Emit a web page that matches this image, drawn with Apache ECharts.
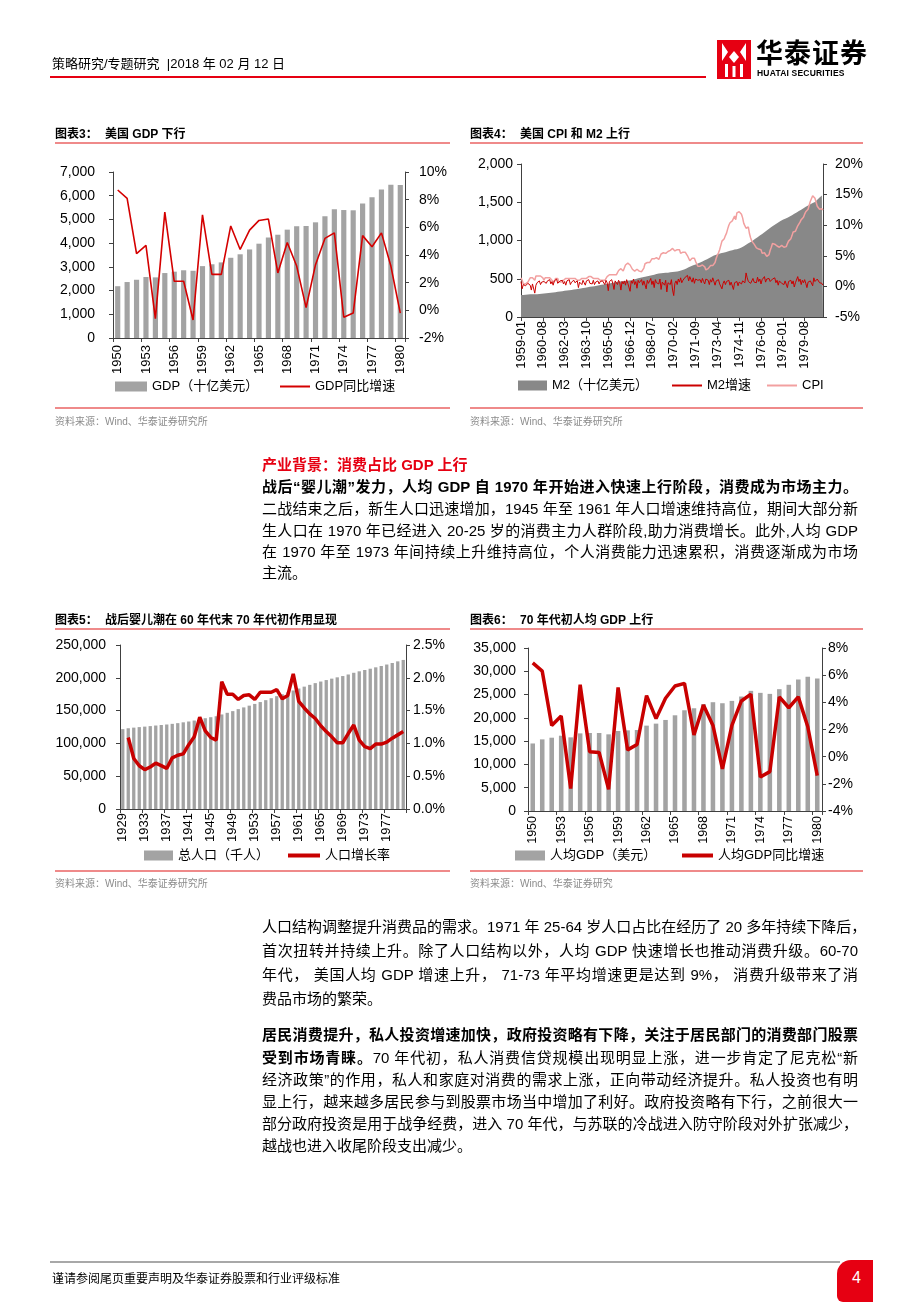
<!DOCTYPE html>
<html><head><meta charset="utf-8">
<script src="https://cdn.jsdelivr.net/npm/echarts/dist/echarts.min.js"></script>
<style>
html,body{margin:0;padding:0;background:#fff;}
#page{position:relative;width:920px;height:1302px;overflow:hidden;background:#fff;}
#c{position:absolute;left:0;top:0;width:920px;height:1302px;}
.t{position:absolute;white-space:nowrap;font-family:"Liberation Sans","Noto Sans CJK SC",sans-serif;color:#000;z-index:2;}
.ttl{font-size:12px;font-weight:bold;line-height:16px;}
.src{font-size:10px;color:#8c8c8c;line-height:14px;}
.rule{position:absolute;height:2px;background:#ef8a8a;z-index:2;}
.ln{left:262px;width:596px;font-size:15px;line-height:20px;text-align:justify;text-align-last:justify;}
.ln.last{text-align-last:left;}
.b{font-weight:bold;}
</style>
</head><body><div id="page">
<div id="c"></div>

<!-- header -->
<div class="t" style="left:52px;top:56px;font-size:13px;line-height:16px;">策略研究/专题研究&nbsp;&nbsp;|2018 年 02 月 12 日</div>
<div style="position:absolute;left:50px;top:76px;width:656px;height:2px;background:#e60012;z-index:2;"></div>
<svg style="position:absolute;left:717px;top:40px;z-index:2" width="34" height="39" viewBox="0 0 34 39">
<rect x="0" y="0" width="34" height="39" fill="#e60012"/>
<path d="M5 3 L11 12 L5 21 Z M29 3 L23 12 L29 21 Z" fill="#fff"/>
<path d="M12 17 L17 11 L22 17 L17 23 Z" fill="#fff"/>
<rect x="8" y="24" width="3" height="13" fill="#fff"/><rect x="23" y="24" width="3" height="13" fill="#fff"/>
<rect x="15.5" y="26" width="3" height="11" fill="#fff"/>
</svg>
<div class="t" style="left:756px;top:36px;font-size:27px;font-weight:bold;line-height:32px;letter-spacing:1px;font-family:'Noto Sans CJK SC',sans-serif;">华泰证券</div>
<div class="t" style="left:757px;top:68px;font-size:8.5px;font-weight:bold;line-height:10px;letter-spacing:0.2px;">HUATAI SECURITIES</div>

<!-- chart titles -->
<div class="t ttl" style="left:55px;top:126px;">图表3：</div>
<div class="t ttl" style="left:105px;top:126px;">美国 GDP 下行</div>
<div class="rule" style="left:55px;top:142px;width:395px;"></div>
<div class="t ttl" style="left:470px;top:126px;">图表4：</div>
<div class="t ttl" style="left:520px;top:126px;">美国 CPI 和 M2 上行</div>
<div class="rule" style="left:470px;top:142px;width:393px;"></div>
<div class="rule" style="left:55px;top:407px;width:395px;"></div>
<div class="rule" style="left:470px;top:407px;width:393px;"></div>
<div class="t src" style="left:55px;top:415px;">资料来源：Wind、华泰证券研究所</div>
<div class="t src" style="left:470px;top:415px;">资料来源：Wind、华泰证券研究所</div>

<div class="t ttl" style="left:55px;top:612px;">图表5：</div>
<div class="t ttl" style="left:105px;top:612px;">战后婴儿潮在 60 年代末 70 年代初作用显现</div>
<div class="rule" style="left:55px;top:628px;width:395px;"></div>
<div class="t ttl" style="left:470px;top:612px;">图表6：</div>
<div class="t ttl" style="left:520px;top:612px;">70 年代初人均 GDP 上行</div>
<div class="rule" style="left:470px;top:628px;width:393px;"></div>
<div class="rule" style="left:55px;top:870px;width:395px;"></div>
<div class="rule" style="left:470px;top:870px;width:393px;"></div>
<div class="t src" style="left:55px;top:877px;">资料来源：Wind、华泰证券研究所</div>
<div class="t src" style="left:470px;top:877px;">资料来源：Wind、华泰证券研究</div>

<!-- body text -->
<div class="t b" style="left:262px;top:455px;font-size:15px;line-height:20px;color:#e60012;">产业背景：消费占比 GDP 上行</div>
<div class="t ln b" style="top:477px;">战后“婴儿潮”发力，人均 GDP 自 1970 年开始进入快速上行阶段，消费成为市场主力。</div>
<div class="t ln" style="top:499px;">二战结束之后，新生人口迅速增加，1945 年至 1961 年人口增速维持高位，期间大部分新</div>
<div class="t ln" style="top:521px;">生人口在 1970 年已经进入 20-25 岁的消费主力人群阶段,助力消费增长。此外,人均 GDP</div>
<div class="t ln" style="top:542px;">在 1970 年至 1973 年间持续上升维持高位，个人消费能力迅速累积，消费逐渐成为市场</div>
<div class="t ln last" style="top:563px;">主流。</div>

<div class="t ln" style="top:917px;">人口结构调整提升消费品的需求。1971 年 25-64 岁人口占比在经历了 20 多年持续下降后，</div>
<div class="t ln" style="top:941px;">首次扭转并持续上升。除了人口结构以外，人均 GDP 快速增长也推动消费升级。60-70</div>
<div class="t ln" style="top:965px;">年代， 美国人均 GDP 增速上升， 71-73 年平均增速更是达到 9%， 消费升级带来了消</div>
<div class="t ln last" style="top:989px;">费品市场的繁荣。</div>

<div class="t ln" style="top:1025px;"><span class="b">居民消费提升，私人投资增速加快，政府投资略有下降，关注于居民部门的消费部门股票</span></div>
<div class="t ln" style="top:1048px;"><span class="b">受到市场青睐。</span>70 年代初，私人消费信贷规模出现明显上涨，进一步肯定了尼克松“新</div>
<div class="t ln" style="top:1070px;">经济政策”的作用，私人和家庭对消费的需求上涨，正向带动经济提升。私人投资也有明</div>
<div class="t ln" style="top:1092px;">显上行，越来越多居民参与到股票市场当中增加了利好。政府投资略有下行，之前很大一</div>
<div class="t ln" style="top:1114px;">部分政府投资是用于战争经费，进入 70 年代，与苏联的冷战进入防守阶段对外扩张减少，</div>
<div class="t ln last" style="top:1136px;">越战也进入收尾阶段支出减少。</div>

<!-- footer -->
<div style="position:absolute;left:50px;top:1261px;width:790px;height:2px;background:#a8a8a8;z-index:2;"></div>
<div class="t" style="left:52px;top:1271px;font-size:12px;line-height:16px;">谨请参阅尾页重要声明及华泰证券股票和行业评级标准</div>
<div style="position:absolute;left:837px;top:1260px;width:36px;height:42px;background:#e60012;border-top-left-radius:14px;border-bottom-left-radius:6px;z-index:2;"></div>
<div class="t" style="left:852px;top:1268px;font-size:16px;line-height:20px;color:#fff;z-index:3;">4</div>
</div>

<script>
// ---------- Chart 3: US GDP ----------
const gdpYears = ["1950","1951","1952","1953","1954","1955","1956","1957","1958","1959","1960","1961","1962","1963","1964","1965","1966","1967","1968","1969","1970","1971","1972","1973","1974","1975","1976","1977","1978","1979","1980"];
const gdpValues = [2184,2360,2456,2571,2557,2739,2797,2856,2835,3031,3109,3188,3383,3530,3734,3977,4238,4355,4569,4713,4722,4878,5134,5424,5396,5385,5675,5937,6267,6466,6450];
const gdpGrowth = [8.7,8.1,4.1,4.7,-0.6,7.1,2.1,2.1,-0.7,6.9,2.6,2.6,6.1,4.4,5.8,6.5,6.6,2.7,4.9,3.2,0.2,3.3,5.2,5.6,-0.5,-0.2,5.4,4.6,5.6,3.2,-0.2];

// ---------- Chart 4: M2 & CPI (monthly 1959-01 .. 1980-12) ----------
const monthStartYear = 1959, monthEndYear = 1980;
const m2Level = [
287,288,289,290,292,294,295,296,297,297,297,298,
298,299,299,300,300,302,304,305,307,308,310,312,
314,316,318,319,321,323,325,327,329,330,333,335,
337,340,342,344,346,348,350,352,354,356,359,362,
364,366,369,371,373,376,378,380,383,385,388,391,
394,396,398,401,403,406,409,412,415,418,421,424,
426,429,432,434,436,439,442,444,447,450,454,457,
460,462,465,466,467,468,469,471,473,474,476,480,
482,486,490,493,497,501,505,509,513,517,521,525,
527,529,532,535,538,541,545,549,553,557,562,566,
568,570,572,574,575,577,578,579,580,582,584,586,
588,588,590,593,596,598,602,606,610,615,620,627,
634,642,650,658,665,671,676,681,686,692,698,705,
712,719,727,734,741,748,755,763,772,780,789,797,
803,808,813,818,823,829,833,836,839,843,848,853,
857,861,866,870,874,877,881,884,887,891,895,900,
907,915,924,934,944,954,963,972,981,990,1000,1012,
1023,1034,1044,1054,1064,1074,1084,1095,1107,1119,1131,1143,
1154,1165,1175,1185,1195,1205,1215,1225,1235,1245,1254,1263,
1270,1277,1284,1291,1299,1306,1314,1322,1331,1340,1349,1358,
1367,1376,1385,1394,1403,1413,1422,1431,1440,1449,1458,1466,
1474,1483,1490,1494,1503,1517,1532,1548,1563,1575,1587,1600];
const m2Growth = [
0.8,-0.4,0.3,0.6,0.1,-0.2,0.5,0.7,0.2,-0.6,0.4,0.3,
-1.1,0.2,0.6,0.5,0.9,0.3,0.7,0.4,0.8,1.0,0.5,0.9,
0.6,1.1,0.4,0.8,0.2,0.9,0.7,1.2,0.5,0.3,0.9,0.6,
1.0,0.4,0.8,0.2,0.9,0.6,1.1,0.3,0.7,0.5,1.0,0.6,
0.4,0.9,-0.2,0.7,0.8,0.3,1.0,0.6,0.2,0.9,0.7,1.1,
0.5,0.8,0.4,1.0,0.3,0.7,0.6,0.9,0.4,0.8,0.5,0.9,
0.7,0.3,1.0,0.6,-0.7,0.8,0.5,1.1,0.4,-0.5,0.9,0.7,
0.3,1.0,0.6,-0.6,0.8,0.4,0.9,0.2,1.1,0.5,0.7,-0.8,
0.9,0.5,1.2,0.3,0.8,-0.3,1.0,0.6,0.4,1.1,0.2,0.9,
0.7,-0.4,1.0,0.5,0.8,1.3,0.3,0.9,-0.2,1.1,0.6,0.8,
0.4,1.2,-0.5,0.7,0.9,0.2,1.0,-0.9,0.6,0.8,0.3,1.1,
-0.6,-1.5,0.5,0.9,0.3,1.2,0.7,1.4,0.6,1.0,0.8,1.5,
1.3,1.8,0.9,1.6,1.1,0.7,1.4,0.5,1.2,0.9,1.0,1.3,
1.1,0.6,1.3,0.8,0.4,1.2,0.9,1.0,0.3,1.1,0.7,1.4,
0.8,0.2,0.9,0.6,1.1,0.4,0.7,-0.4,0.5,0.9,0.3,0.8,
0.6,1.0,0.2,0.7,0.9,-0.5,0.6,0.3,0.8,0.1,0.7,0.5,
0.4,0.9,1.2,0.6,2.2,1.4,0.8,1.1,0.5,0.9,1.3,0.7,
1.0,0.6,1.5,0.8,1.2,0.4,1.1,0.9,1.6,0.7,1.2,1.0,
1.3,0.8,0.5,1.2,0.9,1.4,0.6,1.0,0.2,0.9,1.1,0.5,
0.7,0.3,0.9,1.1,-0.2,0.8,0.5,1.0,0.4,0.9,-0.1,0.6,
0.4,1.6,0.8,1.2,0.3,1.0,0.6,1.1,0.5,-0.2,0.7,0.4,
0.9,0.6,0.1,1.4,0.8,0.7,1.2,0.9,0.6,0.8,0.5,0.2];
const cpiYoY = [
1.4,1.0,0.4,0.4,0.4,0.7,0.7,1.0,1.4,1.7,1.4,1.7,
1.0,1.7,1.7,1.7,1.7,1.7,1.4,1.4,1.0,1.4,1.4,1.4,
1.7,1.4,1.4,1.0,0.7,0.7,1.3,1.0,1.3,0.7,0.7,0.7,
0.7,1.0,1.0,1.3,1.3,1.3,1.0,1.3,1.3,1.3,1.3,1.3,
1.3,1.0,1.3,1.0,1.0,1.3,1.6,1.3,1.0,1.3,1.3,1.6,
1.6,1.6,1.3,1.3,1.3,1.3,1.3,1.3,1.3,1.0,1.3,1.0,
1.0,1.0,1.3,1.6,1.6,1.9,1.6,1.9,1.6,1.9,1.6,1.9,
1.9,2.6,2.6,2.9,2.9,2.5,2.8,3.5,3.5,3.8,3.8,3.5,
3.5,2.8,2.8,2.5,2.8,2.8,2.8,2.5,2.8,2.4,2.7,3.0,
3.7,4.0,3.9,3.9,3.9,4.2,4.5,4.5,4.5,4.8,4.7,4.7,
4.4,4.7,5.3,5.5,5.5,5.5,5.4,5.7,5.7,5.7,5.9,6.2,
6.2,6.2,5.8,6.1,6.0,6.0,6.0,5.4,5.7,5.6,5.6,5.6,
5.3,5.0,4.7,4.2,4.4,4.6,4.4,4.6,4.1,3.8,3.3,3.3,
3.3,3.5,3.5,3.5,3.2,2.7,3.0,2.9,3.2,3.4,3.7,3.4,
3.7,3.9,4.6,5.1,5.5,6.0,5.7,7.4,7.4,7.8,8.3,8.7,
9.4,10.0,10.4,10.1,10.7,10.9,11.5,10.9,12.0,12.1,12.2,12.3,
11.8,11.2,10.3,10.2,9.5,9.4,9.7,8.6,7.9,7.4,7.4,6.9,
6.7,6.3,6.1,6.1,6.2,6.0,5.4,5.7,5.5,5.5,4.9,4.9,
5.2,5.9,6.4,7.0,6.7,6.9,6.8,6.6,6.6,6.4,6.7,6.7,
6.8,6.4,6.6,6.5,7.0,7.4,7.7,7.8,8.3,8.9,8.9,9.0,
9.3,9.9,10.1,10.5,10.9,10.9,11.3,11.8,12.2,12.1,12.6,13.3,
13.9,14.2,14.8,14.7,14.4,14.4,13.1,12.9,12.6,12.8,12.7,12.5];

// ---------- Chart 5: population ----------
const popYears = ["1929","1930","1931","1932","1933","1934","1935","1936","1937","1938","1939","1940","1941","1942","1943","1944","1945","1946","1947","1948","1949","1950","1951","1952","1953","1954","1955","1956","1957","1958","1959","1960","1961","1962","1963","1964","1965","1966","1967","1968","1969","1970","1971","1972","1973","1974","1975","1976","1977","1978","1979","1980"];
const popValues = [121767,123077,124040,124840,125579,126374,127250,128053,128825,129825,130880,132122,133402,134860,136739,138397,139928,141389,144126,146631,149188,152271,154878,157553,160184,163026,165931,168903,171984,174882,177830,180671,183691,186538,189242,191889,194303,196560,198712,200706,202677,205052,207661,209896,211909,213854,215973,218035,220239,222585,225055,227225];
const popGrowth = [null,1.09,0.77,0.66,0.60,0.64,0.70,0.66,0.62,0.78,0.82,0.84,0.98,1.10,1.40,1.19,1.09,1.05,1.94,1.75,1.75,1.67,1.73,1.74,1.67,1.78,1.78,1.78,1.82,1.68,1.73,2.06,1.64,1.54,1.45,1.38,1.27,1.18,1.10,1.01,1.01,1.15,1.28,1.05,0.95,0.92,0.99,0.99,1.02,1.08,1.13,1.18];

// ---------- Chart 6: GDP per capita ----------
const pcYears = gdpYears;
const pcGdp = [14500,15380,15740,16170,15810,16670,16750,16750,16460,17180,17320,17390,18330,18760,19550,20550,21630,22060,22950,23360,23140,23640,24580,25800,25370,25150,26160,27100,28250,28830,28460];
const pcGrowth = [6.9,6.3,2.3,3.0,-2.35,5.3,0.36,0.31,-2.4,5.1,0.5,0.9,4.5,2.8,4.3,5.2,5.4,1.6,3.8,2.3,-0.9,2.3,4.1,4.6,-1.5,-1.1,4.4,3.6,4.4,2.2,-1.4];

const monthLabels = [];
for (let y = monthStartYear; y <= monthEndYear; y++) for (let m = 1; m <= 12; m++) monthLabels.push(y + '-' + (m < 10 ? '0' + m : m));

const FONT = '"Liberation Sans","Noto Sans CJK SC",sans-serif';
const AX = '#404040';
const thousands = v => v.toLocaleString('en-US');

function xAx(gi, data, interval, margin, fontSize, gap) {
  return {type:'category', gridIndex:gi, data:data, boundaryGap:gap,
    axisLine:{show:true,onZero:false,lineStyle:{color:AX,width:1}},
    axisTick:{show:true,interval:interval,length:4,lineStyle:{color:AX}},
    axisLabel:{interval:interval,rotate:90,margin:margin,fontSize:fontSize,color:'#000',fontFamily:FONT},
    splitLine:{show:false}};
}
function yAx(gi, pos, min, max, interval, margin, fontSize, fmt) {
  return {type:'value', gridIndex:gi, position:pos, min:min, max:max, interval:interval,
    axisLine:{show:true,lineStyle:{color:AX,width:1}},
    axisTick:{show:true,length:4,inside:false,lineStyle:{color:AX}},
    axisLabel:{margin:margin,fontSize:fontSize,color:'#000',fontFamily:FONT,formatter:fmt},
    splitLine:{show:false}};
}
function lg(left, top, w, h, name) {
  return {left:left, top:top, itemWidth:w, itemHeight:h, icon:'rect', padding:0, selectedMode:false,
    data:[name], textStyle:{fontSize:13,color:'#000',fontFamily:FONT}};
}

const chart = echarts.init(document.getElementById('c'), null, {renderer:'canvas'});
chart.setOption({
  animation:false,
  textStyle:{fontFamily:FONT},
  grid:[
    {left:113, top:172, width:292, height:166, outerBoundsMode:'none', containLabel:false},
    {left:521, top:164, width:302, height:153, outerBoundsMode:'none', containLabel:false},
    {left:120, top:645, width:286, height:164, outerBoundsMode:'none', containLabel:false},
    {left:528, top:648, width:294, height:163, outerBoundsMode:'none', containLabel:false}
  ],
  xAxis:[
    xAx(0, gdpYears, 2, 7, 13, true),
    xAx(1, monthLabels, 18, 4, 13, false),
    xAx(2, popYears, 3, 4, 13, true),
    xAx(3, pcYears, 2, 5, 12.5, true)
  ],
  yAxis:[
    yAx(0,'left',0,7000,1000,18,14,thousands),
    yAx(0,'right',-2,10,2,14,14,v=>v+'%'),
    yAx(1,'left',0,2000,500,8,14,thousands),
    yAx(1,'right',-5,20,5,12,14,v=>v+'%'),
    yAx(2,'left',0,250000,50000,14,14,thousands),
    yAx(2,'right',0,2.5,0.5,7,14,v=>v.toFixed(1)+'%'),
    yAx(3,'left',0,35000,5000,12,14,thousands),
    yAx(3,'right',-4,8,2,6,14,v=>v+'%')
  ],
  legend:[
    lg(115,380,32,10,'GDP（十亿美元）'),
    lg(280,380,30,2,'GDP同比增速'),
    lg(518,379,29,10,'M2（十亿美元）'),
    lg(672,379,30,2,'M2增速'),
    lg(767,379,30,2,'CPI'),
    lg(144,849,29,10,'总人口（千人）'),
    lg(288,849,32,4,'人口增长率'),
    lg(515,849,30,10,'人均GDP（美元）'),
    lg(682,849,31,4,'人均GDP同比增速')
  ],
  series:[
    {type:'bar', name:'GDP（十亿美元）', xAxisIndex:0, yAxisIndex:0, data:gdpValues, barWidth:'55%', itemStyle:{color:'#a3a3a3'}, z:1},
    {type:'line', name:'GDP同比增速', xAxisIndex:0, yAxisIndex:1, data:gdpGrowth, symbol:'none', lineStyle:{color:'#d40000',width:1.6}, itemStyle:{color:'#d40000'}, z:3},

    {type:'line', name:'M2（十亿美元）', xAxisIndex:1, yAxisIndex:2, data:m2Level, symbol:'none', lineStyle:{width:0,color:'#888888'}, itemStyle:{color:'#888888'}, areaStyle:{color:'#888888',opacity:1}, z:1},
    {type:'line', name:'M2增速', xAxisIndex:1, yAxisIndex:3, data:m2Growth, symbol:'none', lineStyle:{color:'#cc0000',width:1}, itemStyle:{color:'#cc0000'}, z:3},
    {type:'line', name:'CPI', xAxisIndex:1, yAxisIndex:3, data:cpiYoY, symbol:'none', lineStyle:{color:'#f2a0a0',width:1.5}, itemStyle:{color:'#f2a0a0'}, z:2},

    {type:'bar', name:'总人口（千人）', xAxisIndex:2, yAxisIndex:4, data:popValues, barWidth:'60%', itemStyle:{color:'#a3a3a3'}, z:1},
    {type:'line', name:'人口增长率', xAxisIndex:2, yAxisIndex:5, data:popGrowth, symbol:'none', connectNulls:false, lineStyle:{color:'#c80000',width:3.5}, itemStyle:{color:'#c80000'}, z:3},

    {type:'bar', name:'人均GDP（美元）', xAxisIndex:3, yAxisIndex:6, data:pcGdp, barWidth:'48%', itemStyle:{color:'#a3a3a3'}, z:1},
    {type:'line', name:'人均GDP同比增速', xAxisIndex:3, yAxisIndex:7, data:pcGrowth, symbol:'none', lineStyle:{color:'#c80000',width:3.5}, itemStyle:{color:'#c80000'}, z:3}
  ]
});
</script>
</body></html>
